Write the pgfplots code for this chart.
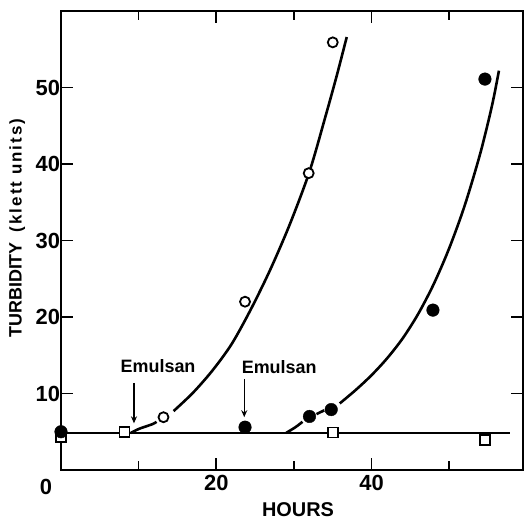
\documentclass[border=0pt]{standalone}
\usepackage{fontspec}
\setmainfont{Liberation Sans}
\usepackage{pgfplots}
\pgfplotsset{compat=1.18}
\usetikzlibrary{arrows.meta}
\newfontfamily\spaced[LetterSpace=12]{Liberation Sans}
\begin{document}
\begin{tikzpicture}
\begin{axis}[
  scale only axis, width=462bp, height=459bp,
  xmin=0, xmax=59.5, ymin=0, ymax=60,
  axis line style={line width=1.8bp},
  tick align=inside,
  xtick={20,40}, minor xtick={10,30,50},
  ytick={10,20,30,40,50},
  major tick length=12bp, minor tick length=9bp,
  every tick/.style={black, line width=1.6bp},
  /pgf/number format/assume math mode=true,
  tick label style={font=\fontsize{22}{26}\selectfont\bfseries},
  xticklabel style={yshift=-2bp},
  yticklabel style={xshift=2.5bp},
  xlabel={HOURS},
  x label style={at={(axis description cs:0.513,-0.087)}, anchor=center, font=\fontsize{20}{24}\selectfont\bfseries},
  ylabel={TURBIDITY\ \ {\spaced\fontsize{17}{20}\selectfont(klett units)}},
  y label style={at={(axis description cs:-0.095,0.527)}, anchor=center, rotate=0, font=\fontsize{18}{22}\selectfont\bfseries},
  clip=false,
]
\coordinate (sw) at (rel axis cs:0,0);
\coordinate (ne) at (rel axis cs:1,1);
% baseline (control)
\addplot[line width=2.2bp, black] coordinates {(0,4.85) (57.8,4.85)};
% curve 1 (emulsan at 10 h)
\addplot[line width=2.6bp, black, smooth] coordinates {(9.0,4.85) (10.1,5.4) (11.8,6.0) (12.3,6.3)};
\addplot[line width=2.6bp, black, smooth] coordinates {(14.5,7.7) (17.0,10.1) (19.5,13.0) (22.0,16.5) (24.5,21.1) (27.0,26.3) (29.5,32.2) (32.0,39.0) (34.0,46.0) (35.5,51.5) (36.8,56.6)};
% curve 2 (emulsan at 24 h)
\addplot[line width=2.6bp, black, smooth] coordinates {(29.0,4.85) (30.2,5.6) (31.1,6.3)};
\addplot[line width=2.6bp, black] coordinates {(32.9,7.3) (33.9,7.8)};
\addplot[line width=2.6bp, black, smooth] coordinates {(35.9,8.7) (38.0,10.5) (40.0,12.4) (42.0,14.6) (44.0,17.2) (46.0,20.4) (48.0,24.3) (50.0,29.0) (52.0,34.6) (54.0,41.4) (55.5,47.6) (56.4,52.2)};
% open squares
\addplot[only marks, mark=square*, mark size=5bp, mark options={fill=white, draw=black, line width=1.6bp}] coordinates {(0,4.3) (8.2,5.0) (35.0,4.9) (54.6,3.9)};
% filled circles
\addplot[only marks, mark=*, mark size=6.3bp, mark options={fill=black, draw=black}] coordinates {(0,5.0) (23.7,5.6) (32.0,7.0) (34.8,7.9) (47.9,20.9) (54.6,51.1)};
% open circles
\addplot[only marks, mark=*, mark size=5bp, mark options={fill=white, draw=black, line width=1.8bp}] coordinates {(13.2,6.9) (23.7,22.0) (31.9,38.8) (35.0,55.9)};
% annotations
\node[anchor=base, font=\fontsize{18}{22}\selectfont\bfseries] at (axis cs:12.5,12.7) {Emulsan};
\node[anchor=base, font=\fontsize{18}{22}\selectfont\bfseries] at (axis cs:28.1,12.6) {Emulsan};
\draw[-{Stealth[length=7bp,width=6bp]}, line width=1.2bp] (axis cs:9.4,11.4) -- (axis cs:9.4,6.1);
\draw[-{Stealth[length=7bp,width=6bp]}, line width=1.2bp] (axis cs:23.6,11.9) -- (axis cs:23.6,6.9);
\node[anchor=north, font=\fontsize{22}{26}\selectfont\bfseries] at (axis cs:0,0) [xshift=-15bp, yshift=-2bp, inner sep=7.3bp] {0};
\end{axis}
\pgfresetboundingbox
\path[use as bounding box] (sw) ++(-61bp,-50bp) rectangle ([shift={(1bp,11bp)}]ne);
\end{tikzpicture}
\end{document}
